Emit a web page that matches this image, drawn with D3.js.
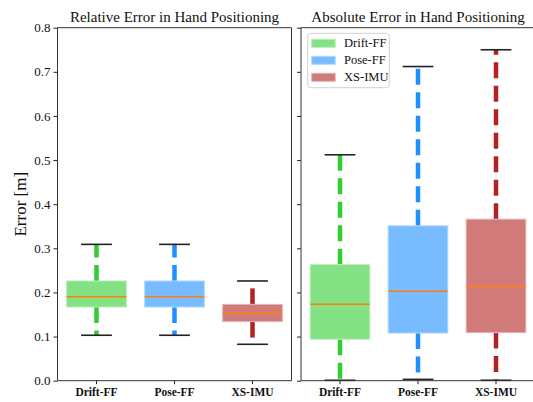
<!DOCTYPE html>
<html>
<head>
<meta charset="utf-8">
<script src="https://cdn.jsdelivr.net/npm/d3@7"></script>
<style>
  html, body { margin: 0; padding: 0; background: #fff; }
  svg { display: block; }
  text { font-family: "Liberation Serif", "Times New Roman", serif; fill: #111; }
</style>
</head>
<body>
<svg id="chart" width="533" height="402"></svg>
<script>
// ---- data ----
const categories = ["Drift-FF", "Pose-FF", "XS-IMU"];
const colors = ["#32cd32", "#1e90ff", "#b22222"];

const relLow    = [0.103, 0.103, 0.0825];
const relQ1     = [0.167, 0.167, 0.134];
const relMedian = [0.190, 0.190, 0.154];
const relQ3     = [0.226, 0.226, 0.173];
const relHigh   = [0.309, 0.309, 0.226];

const absLow    = [0.001, 0.003, 0.001];
const absQ1     = [0.094, 0.108, 0.109];
const absMedian = [0.173, 0.2026, 0.214];
const absQ3     = [0.263, 0.351, 0.366];
const absHigh   = [0.512, 0.712, 0.750];

const yTicks = [0, 0.1, 0.2, 0.3, 0.4, 0.5, 0.6, 0.7, 0.8];
const titles = ["Relative Error in Hand Positioning", "Absolute Error in Hand Positioning"];
const yLabel = "Error [m]";

// ---- layout ----
const svg = d3.select("#chart");
const yTop = 27.7, yBottom = 380.7;
const panels = [
  { x0: 57.5, x1: 291.5, low: relLow, q1: relQ1, med: relMedian, q3: relQ3, high: relHigh, labels: true, rightSpine: true },
  { x0: 301, x1: 535, low: absLow, q1: absQ1, med: absMedian, q3: absQ3, high: absHigh, labels: false, rightSpine: false }
];

const y = d3.scaleLinear().domain([0, 0.8]).range([yBottom, yTop]);

function fillColor(c) {
  const rgb = d3.rgb(c);
  return d3.rgb(0.6 * rgb.r + 0.4 * 255, 0.6 * rgb.g + 0.4 * 255, 0.6 * rgb.b + 0.4 * 255).formatHex();
}
function edgeColor(c) {
  const rgb = d3.rgb(c);
  return d3.rgb(0.35 * rgb.r + 0.65 * 255, 0.35 * rgb.g + 0.65 * 255, 0.35 * rgb.b + 0.65 * 255).formatHex();
}

panels.forEach((p, pi) => {
  const x = d3.scaleBand().domain(categories).range([p.x0, p.x1]).padding(0);
  const bw = x.bandwidth();
  const g = svg.append("g");
  const cx = d => x(d) + bw / 2;

  // whiskers
  categories.forEach((c, i) => {
    g.append("line")
      .attr("x1", cx(c)).attr("x2", cx(c))
      .attr("y1", y(p.q3[i])).attr("y2", y(p.high[i]))
      .attr("stroke", colors[i]).attr("stroke-width", 4.5)
      .attr("stroke-dasharray", "16,7.5");
    g.append("line")
      .attr("x1", cx(c)).attr("x2", cx(c))
      .attr("y1", y(p.q1[i])).attr("y2", y(p.low[i]))
      .attr("stroke", colors[i]).attr("stroke-width", 4.5)
      .attr("stroke-dasharray", "16,7.5");
  });

  // boxes
  categories.forEach((c, i) => {
    const w = bw * 0.765;
    g.append("rect")
      .attr("x", cx(c) - w / 2).attr("width", w)
      .attr("y", y(p.q3[i])).attr("height", y(p.q1[i]) - y(p.q3[i]))
      .attr("fill", fillColor(colors[i]))
      .attr("stroke", edgeColor(colors[i])).attr("stroke-width", 1);
    g.append("line")
      .attr("x1", cx(c) - w / 2).attr("x2", cx(c) + w / 2)
      .attr("y1", y(p.med[i])).attr("y2", y(p.med[i]))
      .attr("stroke", "#ff7f0e").attr("stroke-width", 1.5);
  });

  // caps
  categories.forEach((c, i) => {
    const cw = bw * 0.395;
    [p.low[i], p.high[i]].forEach(v => {
      g.append("line")
        .attr("x1", cx(c) - cw / 2).attr("x2", cx(c) + cw / 2)
        .attr("y1", y(v)).attr("y2", y(v))
        .attr("stroke", "#222").attr("stroke-width", 1.6);
    });
  });

  // axes
  const yAxis = d3.axisLeft(y).tickValues(yTicks).tickSize(4).tickPadding(3)
    .tickFormat(p.labels ? d3.format(".1f") : () => "");
  const ya = svg.append("g").attr("transform", `translate(${p.x0},0)`).call(yAxis);
  ya.select(".domain").remove();
  ya.selectAll("line").attr("stroke", "#222");
  ya.selectAll("text").style("font-size", "13px").style("font-family", "Liberation Serif").attr("fill", "#222");

  const xAxis = d3.axisBottom(x).tickSize(3.5).tickPadding(4);
  const xa = svg.append("g").attr("transform", `translate(0,${yBottom})`).call(xAxis);
  xa.select(".domain").remove();
  xa.selectAll("line").attr("stroke", "#222");
  xa.selectAll("text").style("font-size", "11.5px").style("font-weight", "bold")
    .style("font-family", "Liberation Serif").attr("fill", "#111");

  // spines
  const sp = svg.append("g").attr("stroke", "#333").attr("stroke-width", 1).attr("fill", "none");
  sp.append("line").attr("x1", p.x0).attr("x2", p.x0).attr("y1", yTop).attr("y2", yBottom);
  sp.append("line").attr("x1", p.x0).attr("x2", p.x1).attr("y1", yTop).attr("y2", yTop);
  sp.append("line").attr("x1", p.x0).attr("x2", p.x1).attr("y1", yBottom).attr("y2", yBottom);
  if (p.rightSpine) sp.append("line").attr("x1", p.x1).attr("x2", p.x1).attr("y1", yTop).attr("y2", yBottom);

  // title
  svg.append("text")
    .attr("x", (p.x0 + p.x1) / 2).attr("y", 21.5)
    .attr("text-anchor", "middle")
    .style("font-size", "15px")
    .text(titles[pi]);
});

// y label
svg.append("text")
  .attr("transform", `translate(26,${(yTop + yBottom) / 2}) rotate(-90)`)
  .attr("text-anchor", "middle")
  .style("font-size", "17px")
  .text(yLabel);

// legend
const lg = svg.append("g");
lg.append("rect").attr("x", 307.7).attr("y", 33.3).attr("width", 81.6).attr("height", 54.4)
  .attr("rx", 3).attr("fill", "#fff").attr("fill-opacity", 0.8)
  .attr("stroke", "#d0d0d0").attr("stroke-width", 1);
categories.forEach((c, i) => {
  const cy = 43.3 + i * 17;
  lg.append("rect").attr("x", 311.7).attr("y", cy - 4).attr("width", 23.5).attr("height", 8)
    .attr("fill", fillColor(colors[i])).attr("stroke", edgeColor(colors[i])).attr("stroke-width", 1);
  lg.append("text").attr("x", 344).attr("y", cy + 4).style("font-size", "12.5px").text(c);
});
</script>
</body>
</html>
